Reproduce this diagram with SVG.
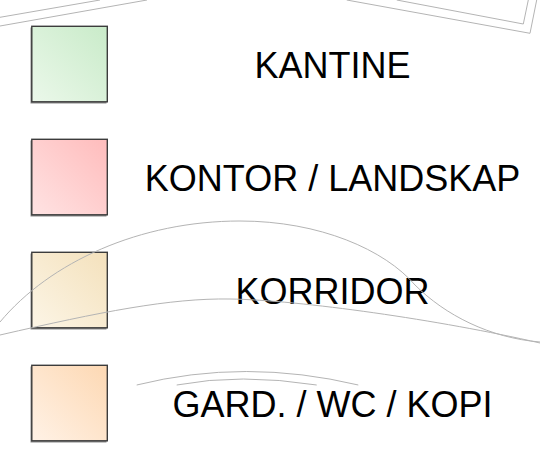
<svg xmlns="http://www.w3.org/2000/svg" width="540" height="450" viewBox="0 0 540 450">
  <style>
    .bg { fill: none; stroke: #b4b4b4; stroke-width: 1; }
    .sw { stroke: #3c3c3c; stroke-width: 1.4; }
    .sh { fill: #8a8a8a; }
    .lbl { font-family: "Liberation Sans", Arial, sans-serif; font-size: 36px; fill: #000; text-anchor: middle; }
  </style>
  <defs>
    <linearGradient id="gGreen" x1="0" y1="1" x2="1" y2="0">
      <stop offset="0" stop-color="#ebf8ea"/>
      <stop offset="1" stop-color="#c9ebc9"/>
    </linearGradient>
    <linearGradient id="gPink" x1="0" y1="1" x2="1" y2="0">
      <stop offset="0" stop-color="#ffe3e3"/>
      <stop offset="1" stop-color="#ffbcbc"/>
    </linearGradient>
    <linearGradient id="gTan" x1="0" y1="1" x2="1" y2="0">
      <stop offset="0" stop-color="#fcf5e6"/>
      <stop offset="1" stop-color="#f4e1bc"/>
    </linearGradient>
    <linearGradient id="gPeach" x1="0" y1="1" x2="1" y2="0">
      <stop offset="0" stop-color="#fff2e6"/>
      <stop offset="1" stop-color="#fdd8b3"/>
    </linearGradient>
  </defs>

  <rect width="540" height="450" fill="#ffffff"/>

  <g id="legend-kantine">
    <rect class="sh" x="30.5" y="27.5" width="76" height="76"/>
    <rect class="sw" x="31.8" y="26.3" width="75.5" height="75.5" fill="url(#gGreen)"/>
    <text class="lbl" x="332.5" y="78">KANTINE</text>
  </g>

  <g id="legend-kontor">
    <rect class="sh" x="30.5" y="140.5" width="76" height="76"/>
    <rect class="sw" x="31.8" y="139.3" width="75.5" height="75.5" fill="url(#gPink)"/>
    <text class="lbl" x="332.5" y="191">KONTOR / LANDSKAP</text>
  </g>

  <g id="legend-korridor">
    <rect class="sh" x="30.5" y="253.5" width="76" height="76"/>
    <rect class="sw" x="31.8" y="252.3" width="75.5" height="75.5" fill="url(#gTan)"/>
    <text class="lbl" x="332.5" y="304">KORRIDOR</text>
  </g>

  <g id="legend-gard">
    <rect class="sh" x="30.5" y="366.5" width="76" height="76"/>
    <rect class="sw" x="31.8" y="365.3" width="75.5" height="75.5" fill="url(#gPeach)"/>
    <text class="lbl" x="332.5" y="417">GARD. / WC / KOPI</text>
  </g>

  <g id="background-lines">
    <path class="bg" d="M0,17.3 L100,0"/>
    <path class="bg" d="M0,26 L147,0"/>
    <path class="bg" d="M346.7,0 L530,33.3 L536.7,0"/>
    <path class="bg" d="M396.7,0 L523.3,24 L528.3,0"/>
    <path class="bg" d="M0,322 C50,262 140,221 240,221 C320,221 385,250 415,285 C445,315 490,338 540,342"/>
    <path class="bg" d="M0,335 C100,312 170,298 230,299 C300,300 440,320 540,343"/>
    <path class="bg" d="M136.7,385 Q245,358 358.3,385"/>
    <path class="bg" d="M176.7,385 Q240,373 316.7,385"/>
  </g>
</svg>
